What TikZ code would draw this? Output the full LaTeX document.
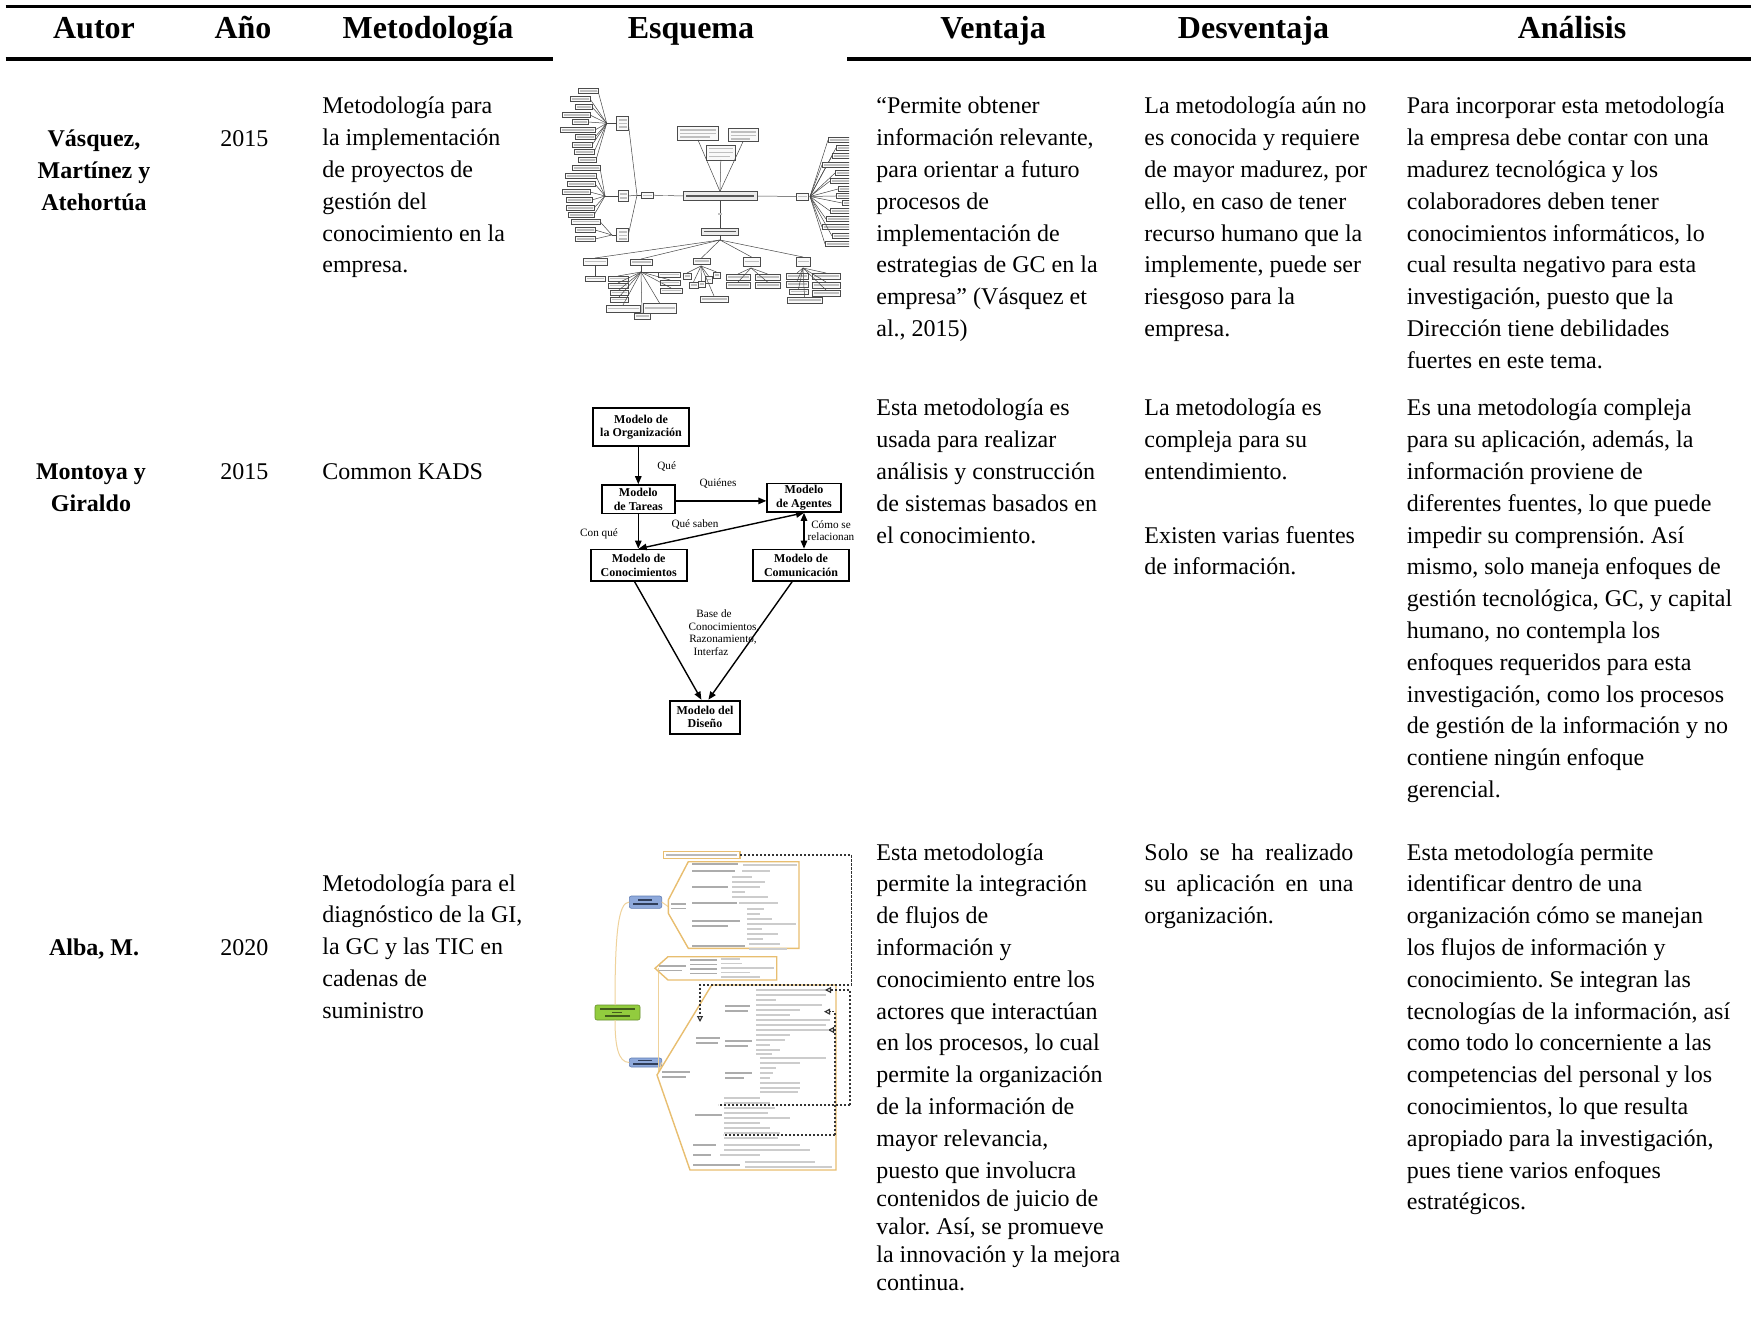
\documentclass[tikz,border=0pt]{standalone}
\usepackage{fontspec}
\setmainfont{Liberation Serif}
\usetikzlibrary{arrows.meta,calc}
\frenchspacing
\newcommand\tcl[1]{\begin{tabular}[t]{@{}l@{}}#1\end{tabular}}
\newcommand\tcc[1]{\begin{tabular}[t]{@{}c@{}}#1\end{tabular}}
% text bar: x1 x2 y colour
\newcommand\tb[4]{\fill[#4] (#1,#3-0.8) rectangle (#2,#3+0.8);}
% mind-map box: x1 y1 x2 y2
\newcommand\mmb[4]{\draw[mm] (#1,#2) rectangle (#3,#4); \fill[gray!50] ({#1+1.5},{(#2+#4)/2-0.6}) rectangle ({#3-1.5},{(#2+#4)/2+0.6});}
\definecolor{orl}{RGB}{232,190,112}
\definecolor{grf}{RGB}{146,204,62}
\definecolor{blf}{RGB}{142,169,219}
\definecolor{bld}{RGB}{96,125,180}
\begin{document}
\begin{tikzpicture}[x=0.5pt,y=-0.5pt,
  body/.style={inner sep=0pt, anchor=base west, font=\fontsize{12}{15.9}\selectfont},
  auth/.style={inner sep=0pt, anchor=base, font=\fontsize{12}{15.9}\selectfont\bfseries},
  head/.style={inner sep=0pt, anchor=base, font=\fontsize{16}{19}\selectfont\bfseries},
  rule/.style={line width=1.6pt},
  mm/.style={draw=gray!60!black, line width=0.25pt, fill=gray!5},
  mml/.style={draw=gray!55!black, line width=0.25pt},
  kbox/.style={draw, line width=0.9pt, inner sep=0pt, align=center, font=\fontsize{6}{6.7}\selectfont\bfseries},
  klab/.style={inner sep=0pt, align=center, font=\fontsize{5.6}{6.3}\selectfont},
  karr/.style={line width=0.7pt, -{Triangle[length=4pt,width=3.2pt]}},
  karr2/.style={line width=0.7pt, {Triangle[length=4pt,width=3.2pt]}-{Triangle[length=4pt,width=3.2pt]}},
  dsh/.style={line width=0.55pt, dash pattern=on 1.2pt off 0.8pt, black!80},
  dar/.style={dsh, -{Triangle[open,length=3pt,width=3pt]}}
]
\useasboundingbox (0,0) rectangle (1751,1336);
\fill[white] (0,0) rectangle (1751,1336);

% ---------- rules ----------
\coordinate (r1a) at (5.6,6.7); \coordinate (r1b) at (1751,6.7);
\draw[rule] (r1a) -- (r1b);
\coordinate (r2a) at (5.6,59); \coordinate (r2b) at (553,59);
\coordinate (r2c) at (847,59); \coordinate (r2d) at (1751,59);
\draw[rule] (r2a) -- (r2b);
\draw[rule] (r2c) -- (r2d);

% ---------- header ----------
\node[head] (hA) at (94,38.5) {Autor};
\node[head] (hY) at (243,38.5) {Año};
\node[head] (hM) at (428,38.5) {Metodología};
\node[head] (hE) at (691,38.5) {Esquema};
\node[head] (hV) at (993,38.5) {Ventaja};
\node[head] (hD) at (1253.5,38.5) {Desventaja};
\node[head] (hN) at (1572,38.5) {Análisis};

% ---------- row 1 ----------
\node[auth] (a1) at (94,147) {\tcc{Vásquez,\\Martínez y\\Atehortúa}};
\node[body] (y1) at (220,147) {2015};
\node[body] (m1) at (322,114) {\tcl{Metodología para\\la implementación\\de proyectos de\\gestión del\\conocimiento en la\\empresa.}};
\node[body] (v1) at (876,114) {\tcl{“Permite obtener\\información relevante,\\para orientar a futuro\\procesos de\\implementación de\\estrategias de GC en la\\empresa” (Vásquez et\\al., 2015)}};
\node[body] (d1) at (1144,114) {\tcl{La metodología aún no\\es conocida y requiere\\de mayor madurez, por\\ello, en caso de tener\\recurso humano que la\\implemente, puede ser\\riesgoso para la\\empresa.}};
\node[body] (n1) at (1406.5,114) {\tcl{Para incorporar esta metodología\\la empresa debe contar con una\\madurez tecnológica y los\\colaboradores deben tener\\conocimientos informáticos, lo\\cual resulta negativo para esta\\investigación, puesto que la\\Dirección tiene debilidades\\fuertes en este tema.}};

% ---------- row 2 ----------
\node[auth] (a2) at (91,480) {\tcc{Montoya y\\Giraldo}};
\node[body] (y2) at (220,480) {2015};
\node[body] (m2) at (322,480) {Common KADS};
\node[body] (v2) at (876,416) {\tcl{Esta metodología es\\usada para realizar\\análisis y construcción\\de sistemas basados en\\el conocimiento.}};
\node[body] (d2) at (1144,416) {\tcl{La metodología es\\compleja para su\\entendimiento.\\ \\Existen varias fuentes\\de información.}};
\node[body] (n2) at (1406.5,416) {\tcl{Es una metodología compleja\\para su aplicación, además, la\\información proviene de\\diferentes fuentes, lo que puede\\impedir su comprensión. Así\\mismo, solo maneja enfoques de\\gestión tecnológica, GC, y capital\\humano, no contempla los\\enfoques requeridos para esta\\investigación, como los procesos\\de gestión de la información y no\\contiene ningún enfoque\\gerencial.}};

% ---------- row 3 ----------
\node[auth] (a3) at (94,955) {Alba, M.};
\node[body] (y3) at (220,955) {2020};
\node[body] (m3) at (322,891) {\tcl{Metodología para el\\diagnóstico de la GI,\\la GC y las TIC en\\cadenas de\\suministro}};
\node[body] (v3) at (876,860) {\tcl{Esta metodología\\permite la integración\\de flujos de\\información y\\conocimiento entre los\\actores que interactúan\\en los procesos, lo cual\\permite la organización\\de la información de\\mayor relevancia,\\puesto que involucra}};
\node[body, font=\fontsize{12}{13.95}\selectfont] (v3b) at (876,1206.5) {\tcl{contenidos de juicio de\\valor. Así, se promueve\\la innovación y la mejora\\continua.}};
\node[body] (d3) at (1144,860) {\tcl{\makebox[104.5pt][s]{Solo se ha realizado}\\\makebox[104.5pt][s]{su aplicación en una}\\organización.}};
\node[body] (n3) at (1406.5,860) {\tcl{Esta metodología permite\\identificar dentro de una\\organización cómo se manejan\\los flujos de información y\\conocimiento. Se integran las\\tecnologías de la información, así\\como todo lo concerniente a las\\competencias del personal y los\\conocimientos, lo que resulta\\apropiado para la investigación,\\pues tiene varios enfoques\\estratégicos.}};

% ================= Scheme 1: mind map =================
\begin{scope}
\clip (553,61) rectangle (849,324);
% central
\draw[mm, fill=gray!15] (683,191.5) rectangle (757,200.5);
\tb{686}{754}{196}{gray!70!black}
% top boxes
\draw[mm] (677.7,126.7) rectangle (718.3,140);
\tb{680}{716}{130}{gray!50} \tb{680}{716}{133.5}{gray!50} \tb{680}{710}{137}{gray!50}
\draw[mm] (706.7,145) rectangle (735,160);
\tb{709}{733}{148.5}{gray!50} \tb{709}{733}{152.5}{gray!50} \tb{709}{730}{156.5}{gray!50}
\draw[mm] (728.3,128.3) rectangle (758.3,141.7);
\tb{731}{756}{132}{gray!50} \tb{731}{756}{135.5}{gray!50} \tb{731}{750}{139}{gray!50}
\draw[mml] (698,140) -- (720,191.5);
\draw[mml] (720.8,160) -- (720,191.5);
\draw[mml] (743,141.7) -- (720,191.5);
% PROYECTO and sub boxes
\mmb{641.7}{192}{653.3}{198.5}
\draw[mml] (653.3,195.2) -- (683,196);
\tb{663}{668}{195.6}{gray!50}
\draw[mm] (616.7,116.7) rectangle (628.3,130);
\tb{618.5}{626.5}{120}{gray!50} \tb{618.5}{626.5}{123.5}{gray!50} \tb{618.5}{626.5}{127}{gray!50}
\draw[mm] (618.3,190) rectangle (628.3,201.7);
\tb{620}{626.5}{194}{gray!50} \tb{620}{626.5}{198}{gray!50}
\draw[mm] (616.7,228.3) rectangle (628.3,241.7);
\tb{618.5}{626.5}{232}{gray!50} \tb{618.5}{626.5}{235.5}{gray!50} \tb{618.5}{626.5}{239}{gray!50}
\coordinate (pf) at (637,195.2);
\draw[mml] (641.7,195.2) -- (pf);
\draw[mml] (pf) -- (628.3,123.3);
\draw[mml] (pf) -- (628.3,196);
\draw[mml] (pf) -- (628.3,235);
% left fan A
\coordinate (fa) at (606.7,123.3);
\draw[mml] (fa) -- (616.7,123.3);
\foreach \xa/\xb/\yy in {578/598/91,570/590/99,575/592/107,562/590/115,572/588/122,560/595/130,575/595/137,572/592/145,574/594/152,578/596/160}{
  \mmb{\xa}{\yy-2.6}{\xb}{\yy+2.6}
  \draw[mml] (\xb,\yy) -- (fa);
}
% left fan B
\coordinate (fb) at (605,196);
\draw[mml] (fb) -- (618.3,196);
\foreach \xa/\xb/\yy in {572/600/168,565/596/176,567/595/184,562/590/192,566/592/200,566/594/208,568/594/215}{
  \mmb{\xa}{\yy-2.6}{\xb}{\yy+2.6}
  \draw[mml] (\xb,\yy) -- (fb);
}
% left fan C
\coordinate (fc) at (612,235);
\draw[mml] (fc) -- (616.7,235);
\foreach \xa/\xb/\yy in {571.7/600/221.7,575/595/230,575/595/239}{
  \mmb{\xa}{\yy-2.6}{\xb}{\yy+2.6}
  \draw[mml] (\xb,\yy) -- (fc);
}
% right CAPACIDAD
\mmb{796.7}{193.3}{808.3}{200}
\draw[mml] (757,196) -- (796.7,196.5);
\tb{772}{777}{196.5}{gray!50}
\coordinate (fr) at (810,196.5);
\foreach \xa/\yy in {828/140,836/148,832/156,822/165,835/173,830/181,838/189,836/196,842/203,830/211,826/219,822/227,832/236,825/244}{
  \mmb{\xa}{\yy-2.6}{852}{\yy+2.6}
  \draw[mml] (fr) -- (\xa,\yy);
}
% GESTION DEL CONOCIMIENTO
\draw[mm, fill=gray!15] (701.7,228.3) rectangle (738.3,235);
\tb{704}{736}{231.6}{gray!70!black}
\draw[mml] (720,200.5) -- (720,228.3);
\tb{718}{722}{214}{gray!50}
\coordinate (fg) at (720,240);
\draw[mml] (720,235) -- (fg);
\foreach \xa/\ya/\xb/\yb in {583/258/607/265,630/259/652/265,693/258/710/264,743/257/760/266,796/257/810/266}{
  \mmb{\xa}{\ya}{\xb}{\yb}
  \draw[mml] (fg) -- ({(\xa+\xb)/2},\ya);
}
% sub leaves
\mmb{585}{276}{605}{281}
\draw[mml] (595,265) -- (595,276);
\coordinate (f2) at (641,272);
\draw[mml] (641,265) -- (f2);
\foreach \xa/\ya/\xb/\yb in {608/276/628/281,608/283/628/288,610/290/628/295,610/297/628/302,606/305/640/312,643/303/676/313,634/313/650/319,658/272/680/277,660/280/680/285,660/288/682/293}{
  \mmb{\xa}{\ya}{\xb}{\yb}
  \draw[mml] (f2) -- ({(\xa+\xb)/2},\ya);
}
\coordinate (f3) at (701,266);
\foreach \xa/\ya/\xb/\yb in {683/273/691/279,689/282/698/288,698/281/705/287,705/276/712/283,713/272/720/278,700/296/728/302}{
  \mmb{\xa}{\ya}{\xb}{\yb}
  \draw[mml] (f3) -- ({(\xa+\xb)/2},\ya);
}
\coordinate (f4) at (751,268);
\foreach \xa/\ya/\xb/\yb in {726/274/750/280,726/282/750/288,755/274/780/280,755/282/780/288}{
  \mmb{\xa}{\ya}{\xb}{\yb}
  \draw[mml] (f4) -- ({(\xa+\xb)/2},\ya);
}
\coordinate (f5) at (803,268);
\foreach \xa/\ya/\xb/\yb in {786/273/808/279,786/281/808/287,789/289/808/294,787/297/822/303,812/273/840/279,812/282/840/288,812/290/840/296}{
  \mmb{\xa}{\ya}{\xb}{\yb}
  \draw[mml] (f5) -- ({(\xa+\xb)/2},\ya);
}
\end{scope}

% ================= Scheme 2: CommonKADS =================
\node[kbox, minimum width=48.3pt, minimum height=18.9pt] (org) at (641,426.9) {Modelo de\\la Organización};
\node[kbox, minimum width=36.7pt, minimum height=14.2pt] (tar) at (638.3,499.3) {Modelo\\de Tareas};
\node[kbox, minimum width=36.7pt, minimum height=14.2pt] (age) at (804,497.7) {Modelo\\de Agentes};
\node[kbox, minimum width=48pt, minimum height=15.7pt] (con) at (638.7,565.3) {Modelo de\\Conocimientos};
\node[kbox, minimum width=48.3pt, minimum height=15.7pt] (com) at (801,565.3) {Modelo de\\Comunicación};
\node[kbox, minimum width=35pt, minimum height=16.5pt] (dis) at (705,717.1) {Modelo del\\Diseño};
\draw[karr] (tar.north |- org.south) -- (tar.north);
\draw[karr] (tar.east |- 0,500.9) -- (age.west |- 0,500.9);
\draw[karr] (tar.south) -- (tar.south |- con.north);
\draw[karr2] (age.south) -- (con.north);
\draw[karr2] (age.south) -- (age.south |- com.north);
\draw[karr] ([xshift=-2pt]con.south) -- ([xshift=-1.8pt]dis.north);
\draw[karr] ([xshift=-4.5pt]com.south) -- ([xshift=1.7pt]dis.north);
\node[klab] (lq) at (666.7,466.3) {Qué};
\node[klab] (lqn) at (718,483.6) {Quiénes};
\node[klab] (lcq) at (599,533.9) {Con qué};
\node[klab] (lqs) at (695,524.4) {Qué saben};
\node[klab] (lcs) at (831,530.7) {Cómo se\\relacionan};
\node[klab, anchor=base] (lb1) at (714,617.6) {Base de};
\node[klab, anchor=base] (lb2) at (724,630.2) {Conocimientos,};
\node[klab, anchor=base] (lb3) at (723,642.7) {Razonamiento,};
\node[klab, anchor=base] (lb4) at (711,655.3) {Interfaz};

% ================= Scheme 3: Alba mind map =================
% green and blue boxes
\draw[draw=grf!70!black, fill=grf, line width=0.3pt, rounded corners=1pt] (595,1005) rectangle (640,1020);
\tb{600}{635}{1009}{grf!45!black} \tb{612}{622}{1012.5}{grf!45!black} \tb{605}{630}{1016}{grf!45!black}
\draw[draw=bld, fill=blf, line width=0.3pt, rounded corners=1pt] (629.3,896) rectangle (661.7,908.3);
\tb{638}{652}{900}{bld!50!black} \tb{633}{658}{904}{bld!50!black}
\draw[draw=bld, fill=blf, line width=0.3pt, rounded corners=1pt] (629.3,1058) rectangle (661.7,1067);
\tb{638}{652}{1060.5}{bld!50!black} \tb{633}{658}{1064}{bld!50!black}
\draw[orl!70, line width=0.5pt] (615,1005) .. controls (615,935) and (618,902) .. (629.3,902);
\draw[orl!70, line width=0.5pt] (615,1020) .. controls (615,1045) and (618,1062.5) .. (629.3,1062.5);
\draw[orl!70, line width=0.5pt] (661.7,902) -- (668.3,906.7);
\draw[orl!70, line width=0.5pt] (658.3,968.3) -- (658.3,1072);
\draw[orl!70, line width=0.5pt] (661.7,1062.5) -- (658.3,1072);
% Integracion box
\draw[orl, line width=0.6pt, fill=white] (663.3,851.7) rectangle (740,858.3);
\tb{666}{737}{855}{gray!55}
% cadena bracket
\draw[orl, line width=0.7pt] (688.3,861.7) -- (799,861.7) -- (799,948.3) -- (688.3,948.3) -- (668.3,913.3) -- (668.3,900) -- cycle;
\tb{671}{686}{904}{gray!65} \tb{671}{686}{908.5}{gray!65}
\tb{691.7}{738}{864}{gray!65} \tb{691.7}{735}{871}{gray!65} \tb{691.7}{728}{887}{gray!65}
\tb{691.7}{737}{903}{gray!65} \tb{691.7}{740}{921}{gray!65} \tb{691.7}{728}{925.7}{gray!65}
\tb{691.7}{745}{945.7}{gray!65}
\tb{743}{797}{865}{gray!40} \tb{742}{770}{871}{gray!40}
\foreach \yy/\xx in {877/752,882/765,887/760,892/745,897/768}{\tb{732}{\xx}{\yy}{gray!40}}
\tb{739}{778}{903}{gray!40}
\foreach \yy/\xx in {909/764,914/760,919/772,924/796,929/762,934/778,939/763}{\tb{747}{\xx}{\yy}{gray!40}}
\tb{749}{780}{944}{gray!40} \tb{749}{787}{948.8}{gray!40}
% herramienta box
\draw[orl, line width=0.7pt] (668,956.7) -- (776.7,956.7) -- (776.7,980) -- (668,980) -- (655,968.3) -- cycle;
\tb{659}{686}{966}{gray!65} \tb{659}{682}{970.5}{gray!65}
\foreach \yy in {960,964.5,969,973.5}{\tb{690}{717}{\yy}{gray!65}}
\foreach \yy/\xx in {959/740,963.5/742,968/774,972.5/750,977/760}{\tb{721}{\xx}{\yy}{gray!40}}
% gestion del conocimiento bracket
\draw[orl, line width=0.7pt] (711.7,985) -- (836,985) -- (836,1170) -- (690,1170) -- (657,1075) -- cycle;
\tb{662}{690}{1072}{gray!65} \tb{662}{686}{1077}{gray!65}
\tb{696}{720}{1038}{gray!65} \tb{696}{718}{1043}{gray!65}
\tb{695}{722}{1115}{gray!65}
\tb{693}{716}{1145}{gray!65} \tb{693}{711}{1155}{gray!65} \tb{693}{740}{1165}{gray!65}
\tb{725}{750}{1006}{gray!65} \tb{725}{748}{1011}{gray!65}
\tb{725}{752}{1041}{gray!65} \tb{725}{748}{1046}{gray!65}
\tb{725}{752}{1073}{gray!65} \tb{725}{744}{1078}{gray!65}
\foreach \yy/\xx in {990/828,995/826,1000/776,1005/822,1010/800,1015/790,1020/830,1025/826,1030/828}{\tb{756}{\xx}{\yy}{gray!40}}
\foreach \yy/\xx in {1035/790,1040/785,1045/770,1050/780,1054/772}{\tb{756}{\xx}{\yy}{gray!40}}
\foreach \yy/\xx in {1058/826,1063/800,1068/776,1073/773,1078/770,1083/800,1088/800,1092/798}{\tb{760}{\xx}{\yy}{gray!40}}
\foreach \yy/\xx in {1098/760,1103/770,1108/775,1113/768,1118/790,1123/760,1128/770,1133/780,1138/778}{\tb{724}{\xx}{\yy}{gray!40}}
\tb{724}{800}{1145}{gray!40} \tb{724}{810}{1150}{gray!40} \tb{720}{760}{1155}{gray!40}
\tb{745}{815}{1162}{gray!40} \tb{745}{832}{1167}{gray!40}
% dashed links
\coordinate (dA) at (740,855);
\coordinate (dB) at (700,1022);
\draw[dar] (dA) -- (851.7,855) -- (851.7,985) -- (700,985) -- (dB);
\coordinate (dC) at (825,990);
\draw[dar] (850,1105) -- (850,990) -- (dC);
\draw[dsh] (850,1105) -- (718,1105);
\coordinate (dD) at (824,1011.7);
\draw[dar] (835,1135) -- (835,1011.7) -- (dD);
\coordinate (dE) at (828,1030);
\draw[dar] (835,1030) -- (dE);
\draw[dsh] (835,1135) -- (723,1135);
\end{tikzpicture}
\end{document}
